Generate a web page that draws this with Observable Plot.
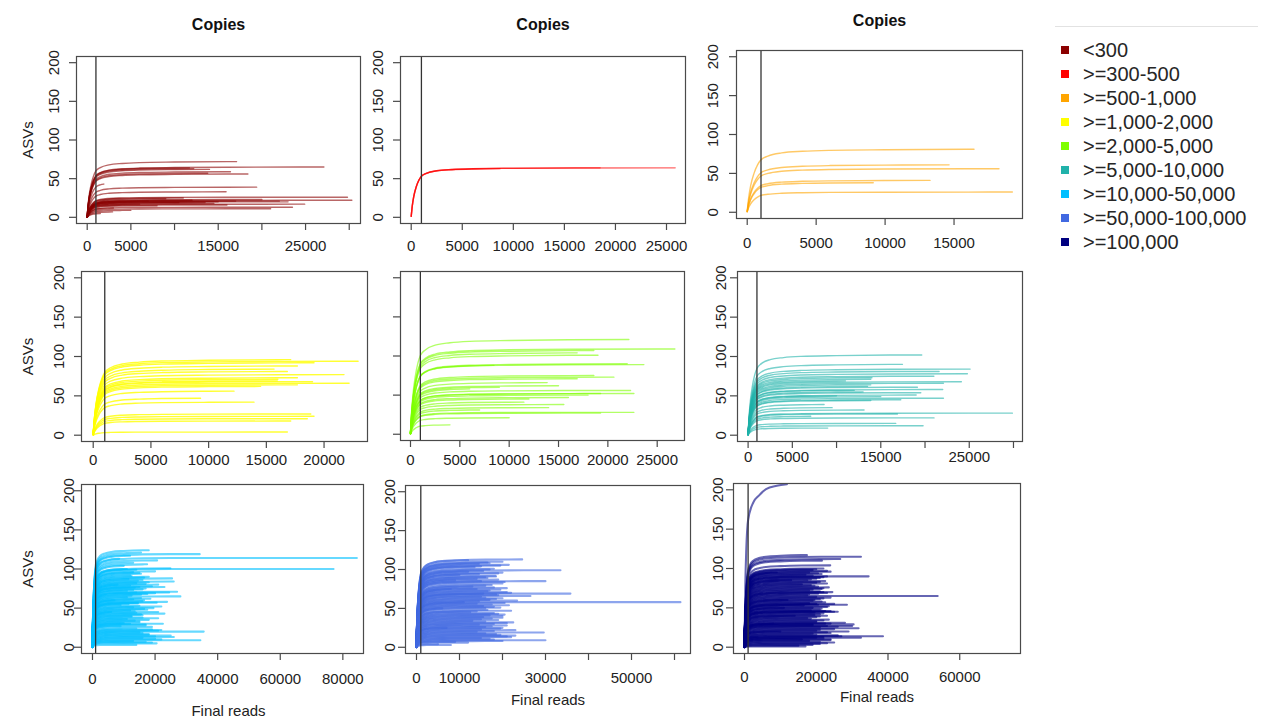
<!DOCTYPE html>
<html>
<head>
<meta charset="utf-8">
<script src="https://cdn.jsdelivr.net/npm/d3@7"></script>
<script src="https://cdn.jsdelivr.net/npm/@observablehq/plot@0.6"></script>
<style>
  body { margin: 0; background: #fff; }
  #chart { position: relative; width: 1264px; height: 719px; overflow: hidden; background: #fff;
           font-family: "Liberation Sans", Arial, sans-serif; }
  #chart svg { position: absolute; }
  .legend-rule { position: absolute; left: 1055px; top: 26px; width: 203px; height: 1px; background: #e2e2e2; }
  .legend-item { position: absolute; left: 1061px; height: 24px; display: flex; align-items: center;
                 font-size: 20px; color: #262626; white-space: nowrap; }
  .legend-item span.sw { width: 8px; height: 8px; margin-right: 14px; display: inline-block; }
</style>
</head>
<body>
<div id="chart"></div>
<script>
// Copy-number bins (one panel each) and their colours
const copyBins = ["<300", ">=300-500", ">=500-1,000", ">=1,000-2,000", ">=2,000-5,000",
                  ">=5,000-10,000", ">=10,000-50,000", ">=50,000-100,000", ">=100,000"];
const binColors = ["#8B0000", "#FF0000", "#FFA500", "#FFFF00", "#7FFF00",
                   "#20B2AA", "#00BFFF", "#4169E1", "#000080"];

// Rarefaction curves per bin: [final reads, final ASVs, profile (0 = usual, 1 = slow-saturating)]
const curvesLt300 = [
  [17100,72],[27100,65],[11700,64],[12200,63],[14000,62],[16400,59],[18400,56],[13800,57],[1900,43],
  [19400,39],[15900,33],[29800,26],[30300,22],[22000,21],[23000,20],[24900,17],[23500,13],[21000,11],
  [2900,7],[9000,24],[12000,22],[15000,20],[10500,19],[6000,17],[13500,19],[8000,15],[17000,21],
  [3000,12],[5000,9],[20000,23],[1500,5],[11000,25],[14500,18],[7000,21],[16000,16]
];
const curves300to500 = [[25850,64],[18500,64],[8700,63]];
const curves500to1k = [[16450,81],[14640,61],[18260,56],[13260,41],[9140,38],[19230,26]];
const curves1kto2k = [
  [17110,96],[22950,94],[19130,92],[17690,88],[15670,84],[16820,81],[21730,77],[17690,73],[16000,71],
  [15950,69],[19000,68],[22170,66],[17690,64],[14500,62],[12200,56],[9300,47],[13930,42],[18850,27],
  [19130,24],[18550,21],[17110,18],[16820,4]
];
const curves2kto5k = [
  [22130,121],[26790,109],[18580,107],[16890,104],[19000,101],[21960,90],[23650,89],[8450,88],
  [18580,75],[20610,73],[16890,71],[13850,66],[15000,62],[9000,60],[6000,58],[22300,56],[22640,52],
  [19260,52],[18000,50],[16000,47],[12000,45],[11490,41],[15540,38],[14000,34],[7000,31],[22640,28],
  [19260,27],[10000,21],[4000,12]
];
const curves5kto10k = [
  [19630,102],[17450,90],[25100,84],[21590,81],[24790,78],[21000,75],[14000,73],[13870,71],[11000,69],
  [24110,68],[22080,66],[13870,64],[13500,62],[19140,61],[22000,58],[12000,57],[13000,55],[19520,54],
  [19000,51],[10000,50],[15000,49],[22080,47],[17260,45],[13870,44],[8590,39],[9500,35],[13110,32],
  [29880,28],[16880,27],[7080,24],[21020,22],[16690,15],[19780,12],[9000,9]
];
const curves10kto50k = [
  [17980,124],[15500,121],[34260,119],[12000,117],[84480,114],[8500,113],[20640,111],[13000,108],
  [17450,106],[10000,104],[24900,101],[11000,100],[77030,100],[20000,97],[15000,95],[12000,92],
  [18000,90],[25430,88],[16000,86],[25960,84],[18000,83],[14000,82],[8000,80],[21000,80],[19000,78],
  [23000,77],[17000,75],[13000,73],[27030,71],[24500,70],[20000,69],[15500,67],[28090,65],[11000,64],
  [18500,62],[7000,60],[16500,60],[23830,58],[20500,57],[14500,56],[9000,54],[22000,52],[19500,50],
  [17500,48],[13500,46],[6000,45],[21000,45],[23000,43],[16000,41],[12500,39],[21000,37],[18000,35],
  [15000,33],[10000,31],[22500,30],[17000,28],[9000,27],[19000,26],[14000,24],[22000,22],[35540,20],
  [16000,18],[18000,16],[25000,15],[26000,13],[20000,11],[34470,9],[13000,8],[20500,5],
  [14000,99],[13000,96],[15500,94],[12500,91],[16500,89],[11500,87],[14500,85],[17000,81],[12000,79],
  [15000,77],[13500,76],[16000,74],[11000,72],[14000,70],[17500,68],[12500,66],[15500,63],[13000,61],
  [16000,59],[14500,57],[11500,55],[15000,53],[13000,51],[16500,49],[12000,47],[14000,44],[15500,42],
  [12500,40],[16000,38],[11000,36],[13500,34],[15000,32],[12000,30],[17000,29],[19000,23],[21000,21],
  [15000,19],[18000,17],[20000,14],[16000,12],[22000,10],[17000,7],[19000,6],[14000,3]
];
const curves50kto100k = [
  [24570,113],[12000,112],[20000,110],[17000,108],[21470,106],[15000,104],[18000,101],[33480,99],
  [12000,97],[19000,95],[10000,93],[18370,92],[16000,90],[14000,88],[9000,86],[29990,85],[20500,84],
  [17500,80],[13000,78],[21000,76],[8000,75],[19500,74],[16500,72],[22000,70],[35800,69],[18500,68],
  [26500,66],[15000,65],[20000,63],[17000,61],[23400,60],[11000,58],[61380,58],[14000,56],[21500,54],
  [18000,52],[16000,50],[6000,50],[22000,47],[12500,45],[19000,43],[17000,41],[20000,40],[20000,38],
  [15000,36],[13000,34],[22500,32],[18000,30],[21000,28],[16000,26],[7000,25],[19500,24],[23000,22],
  [14000,20],[29600,19],[18500,17],[23000,15],[22000,13],[17000,11],[29990,9],[9000,7],[5000,4],
  [16500,109],[14500,107],[19500,105],[13500,103],[17000,100],[15500,98],[20000,96],[14500,94],
  [18500,91],[16500,89],[19000,87],[15000,85],[20000,82],[16000,79],[18000,77],[14000,75],[17000,73],
  [21000,71],[15500,69],[19000,67],[16000,64],[18500,62],[14500,59],[20500,57],[17500,55],[15500,53],
  [19500,51],[16500,48],[14000,46],[18000,44],[20500,42],[15500,39],[17500,37],[19000,35],[16000,33],
  [21000,31],[14500,29],[17500,27],[20000,25],[15000,23],[18000,21],[16000,18],[19500,16],[21000,14],
  [15000,12],[18000,10],[20000,8],[12000,6],[8000,3]
];
const curvesGe100k = [
  [11810,207,1],[17390,117],[32460,115],[26690,112],[21580,110],[23900,104],[22000,100],[19000,98],
  [24000,96],[9000,95],[20500,94],[17000,92],[34600,90],[23000,90],[21000,88],[18500,86],[13000,85],
  [22500,84],[20000,82],[16000,80],[19500,78],[23500,76],[21500,74],[18000,72],[22000,70],[24500,70],
  [20500,68],[17500,66],[53850,65],[24000,63],[21000,61],[12000,60],[19000,59],[22500,57],[20000,55],
  [25000,55],[28550,54],[16500,53],[23000,51],[11000,50],[21500,49],[18500,47],[24000,46],[25000,45],
  [26000,45],[22000,43],[19500,41],[14000,40],[21000,39],[17500,37],[23500,35],[20000,33],[28000,31],
  [22500,30],[8000,30],[30410,29],[19000,28],[30000,27],[26000,26],[31800,24],[21000,22],[29000,20],
  [10000,20],[24000,18],[20000,16],[27000,14],[38600,14],[32460,12],[22000,11],[16000,10],[24000,9],
  [18000,8],[25000,6],[21000,4],[15000,2],
  [20000,99],[23000,97],[18000,95],[21500,93],[19000,91],[22000,89],[20000,87],[17500,85],[21000,83],
  [23000,81],[18500,79],[20500,77],[22000,75],[19000,73],[21000,71],[23000,69],[18000,67],[20000,64],
  [22000,62],[19500,60],[21500,58],[18000,56],[20500,54],[23500,52],[19000,50],[21000,48],[22500,46],
  [19500,44],[21000,42],[23000,40],[20000,38],[18500,36],[22000,34],[20000,32],[24000,30],[19000,29],
  [23000,27],[21000,25],[25000,23],[20000,21],[23000,19],[19000,17],[26000,15],[22000,13],[20000,12],
  [24000,10],[21000,7],[23000,5],[19000,3],[17000,1]
];
const panelCurves = [curvesLt300, curves300to500, curves500to1k, curves1kto2k, curves2kto5k,
                     curves5kto10k, curves10kto50k, curves50kto100k, curvesGe100k];

// Share of the final ASV count reached at a given read depth (rarefaction profiles)
const rarefactionReads = [1, 100, 250, 500, 750, 1000, 1500, 2500, 4000, 6000, 10000, 16000, 25000, 100000];
const rarefactionShare = [0.02, 0.22, 0.42, 0.62, 0.75, 0.83, 0.89, 0.94, 0.965, 0.98, 0.99, 0.997, 1, 1];
const slowRarefactionReads = [1, 250, 500, 1000, 2500, 4000, 6000, 9000, 12000, 100000];
const slowRarefactionShare = [0.01, 0.4, 0.6, 0.78, 0.89, 0.93, 0.97, 0.99, 1, 1];

// Axis ticks and the tick labels that are printed
const yTicks = [0, 50, 100, 150, 200];
const xTicks = [
  [0, 5000, 10000, 15000, 20000, 25000, 30000],
  [0, 5000, 10000, 15000, 20000, 25000],
  [0, 5000, 10000, 15000],
  [0, 5000, 10000, 15000, 20000],
  [0, 5000, 10000, 15000, 20000, 25000],
  [0, 5000, 10000, 15000, 20000, 25000, 30000],
  [0, 20000, 40000, 60000, 80000],
  [0, 10000, 20000, 30000, 40000, 50000, 60000],
  [0, 20000, 40000, 60000]
];
const xTickLabels = [
  [0, 5000, 15000, 25000],
  [0, 5000, 10000, 15000, 20000, 25000],
  [0, 5000, 10000, 15000],
  [0, 5000, 10000, 15000, 20000],
  [0, 5000, 10000, 15000, 20000, 25000],
  [0, 5000, 15000, 25000],
  [0, 20000, 40000, 60000, 80000],
  [0, 10000, 30000, 50000],
  [0, 20000, 40000, 60000]
];
const minReadsLine = 1000;

// Panel boxes on the page and axis text placement
const layout = [
  {left: 76,  top: 56,  w: 284, h: 167, xDomain: [-1225, 31290], xLab: 23, yLab: -22, yNums: true,  title: true, asvs: true},
  {left: 400, top: 56,  w: 285, h: 167, xDomain: [-1048, 26860], xLab: 23, yLab: -22, yNums: true,  title: true},
  {left: 736, top: 50,  w: 286, h: 168, xDomain: [-777, 19965],  xLab: 25, yLab: -23, yNums: true,  title: true},
  {left: 81,  top: 271, w: 286, h: 170, xDomain: [-1015, 23764], xLab: 19, yLab: -22, yNums: true,  asvs: true},
  {left: 400, top: 271, w: 284, h: 169, xDomain: [-1013, 27766], xLab: 20, yLab: -22, yNums: false},
  {left: 737, top: 271, w: 285, h: 170, xDomain: [-1198, 31020], xLab: 16, yLab: -16, yNums: true},
  {left: 81,  top: 484, w: 282, h: 169, xDomain: [-3510, 86600], xLab: 26, yLab: -12, yNums: true,  asvs: true, reads: 58, readsDx: 6},
  {left: 405, top: 485, w: 285, h: 168, xDomain: [-2558, 63720], xLab: 25, yLab: -15, yNums: true,  reads: 47, readsDx: 0},
  {left: 733, top: 483, w: 287, h: 170, xDomain: [-3070, 76940], xLab: 24, yLab: -15, yNums: true,  reads: 44, readsDx: 0}
];

const profiles = [
  d3.scaleLinear(rarefactionReads, rarefactionShare).clamp(true),
  d3.scaleLinear(slowRarefactionReads, slowRarefactionShare).clamp(true)
];
const profileReads = [rarefactionReads, slowRarefactionReads];

function curveRows(curves) {
  const rows = [];
  curves.forEach(([reads, asvs, prof = 0], id) => {
    const share = profiles[prof];
    const k = asvs / share(reads);
    for (const r of profileReads[prof]) if (r < reads) rows.push({id, r, a: share(r) * k});
    rows.push({id, r: reads, a: asvs});
  });
  return rows;
}

const chart = document.getElementById("chart");
const ML = 75, MR = 8, MT = 55, MB = 70;
const font = "'Liberation Sans', Arial, sans-serif";

layout.forEach((p, i) => {
  const dense = i >= 6;
  const marks = [
    Plot.line(curveRows(panelCurves[i]), {
      x: "r", y: "a", z: "id", stroke: binColors[i], strokeWidth: dense ? 2.1 : 1.4,
      strokeOpacity: i === 3 ? 0.8 : 0.6, curve: "monotone-x"
    }),
    Plot.ruleX([minReadsLine], {stroke: "#333", strokeWidth: 1.3}),
    Plot.frame({stroke: "#4a4a4a", strokeWidth: 1.2}),
    Plot.axisX({ticks: xTicks[i], tickSize: 7, tickFormat: () => "", label: null, stroke: "#4a4a4a", strokeWidth: 1.2}),
    Plot.axisY({ticks: yTicks, tickSize: 7, tickFormat: () => "", label: null, stroke: "#4a4a4a", strokeWidth: 1.2}),
    Plot.text(xTickLabels[i], {x: d => d, text: d => String(d), frameAnchor: "bottom", dy: p.xLab,
      lineAnchor: "middle", textAnchor: "middle", fontSize: 15, fill: "#222"})
  ];
  if (p.yNums) marks.push(Plot.text(yTicks, {y: d => d, text: d => String(d), frameAnchor: "left", dx: p.yLab,
      rotate: -90, lineAnchor: "middle", textAnchor: "middle", fontSize: 15, fill: "#222"}));
  if (p.title) marks.push(Plot.text(["Copies"], {text: d => d, frameAnchor: "top", dy: -(p.top - (i === 2 ? 20 : 24)),
      lineAnchor: "middle", fontSize: 16, fontWeight: "bold", fill: "#111"}));
  if (p.asvs) marks.push(Plot.text(["ASVs"], {text: d => d, frameAnchor: "left", dx: 28 - p.left,
      rotate: -90, lineAnchor: "middle", textAnchor: "middle", fontSize: 15, fill: "#222"}));
  if (p.reads) marks.push(Plot.text(["Final reads"], {text: d => d, frameAnchor: "bottom", dy: p.reads, dx: p.readsDx,
      lineAnchor: "middle", textAnchor: "middle", fontSize: 15, fill: "#222"}));

  const svg = Plot.plot({
    width: p.w + ML + MR, height: p.h + MT + MB,
    marginLeft: ML, marginRight: MR, marginTop: MT, marginBottom: MB,
    x: {domain: p.xDomain},
    y: {domain: [-8, 208]},
    style: {background: "transparent", overflow: "visible", fontFamily: font, fontSize: "15px", color: "#333"},
    marks
  });
  svg.style.left = (p.left - ML) + "px";
  svg.style.top = (p.top - MT) + "px";
  chart.appendChild(svg);
});

// Legend of copy-number bins
const rule = document.createElement("div");
rule.className = "legend-rule";
chart.appendChild(rule);
copyBins.forEach((label, i) => {
  const item = document.createElement("div");
  item.className = "legend-item";
  item.style.top = (50 + i * 24.05 - 12) + "px";
  const sw = document.createElement("span");
  sw.className = "sw";
  sw.style.background = binColors[i];
  item.appendChild(sw);
  item.appendChild(document.createTextNode(label));
  chart.appendChild(item);
});
</script>
</body>
</html>
